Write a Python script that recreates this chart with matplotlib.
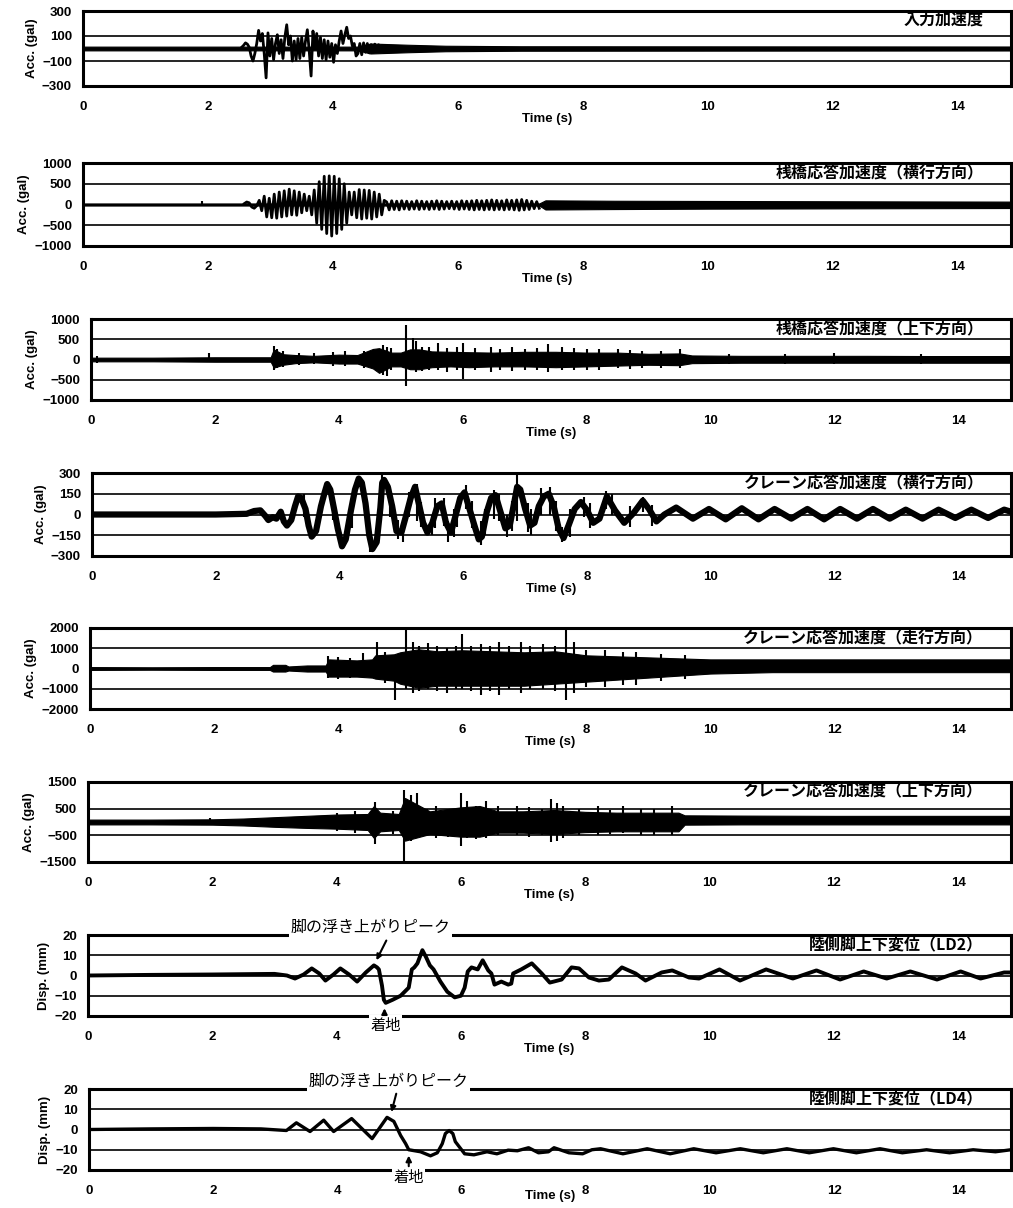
import numpy as np
import matplotlib.pyplot as plt

plt.rcParams['font.family'] = ['Liberation Sans', 'Noto Sans CJK JP']
JP = ['Noto Sans CJK JP', 'DejaVu Sans']

# ---------------- data ----------------
titles = ['入力加速度', '桟橋応答加速度（横行方向）', '桟橋応答加速度（上下方向）',
          'クレーン応答加速度（横行方向）', 'クレーン応答加速度（走行方向）',
          'クレーン応答加速度（上下方向）', '陸側脚上下変位（LD2）', '陸側脚上下変位（LD4）']
ylabels = ['Acc. (gal)'] * 6 + ['Disp. (mm)'] * 2
yticks = [[-300, -100, 100, 300], [-1000, -500, 0, 500, 1000], [-1000, -500, 0, 500, 1000],
          [-300, -150, 0, 150, 300], [-2000, -1000, 0, 1000, 2000], [-1500, -500, 500, 1500],
          [-20, -10, 0, 10, 20], [-20, -10, 0, 10, 20]]
xticks = [0, 2, 4, 6, 8, 10, 12, 14]

# panel 1 : input acceleration (peaks every 0.03 s from 2.54 s)
a1_start, a1_step = 2.54, 0.03
a1 = [10, 25, 45, 35, 10, -60, -100, -40, 40, 145, 60, 120, -40, -235, 125, -60,
      80, -90, 40, 110, -40, 70, -80, 90, 190, 30, 100, -100, 60, -90, 80, -80,
      90, -60, 60, 150, -20, -220, 140, 0, 120, -60, 90, -80, 70, -90, 60, -70,
      40, -110, 30, -40, 60, 140, 40, 110, 170, 80, 100, 20, 40, -60, -40, 40,
      -50, 45, -30, 40, -35, 30, -30, 35, -25, 30, -25, 25, -20, 20, -20, 15]
b1_t = [0, 2.5, 4.4, 4.6, 5.2, 5.8, 7.0, 14.85]
b1_lo = [-15, -15, -15, -40, -30, -22, -18, -16]
b1_hi = [15, 15, 15, 40, 30, 22, 18, 16]
sp1_t, sp1_lo, sp1_hi = [], [], []

# panel 2 : pier lateral (peaks every 0.04 s from 2.58 s)
a2_start, a2_step = 2.58, 0.04
a2 = [20, 60, 40, -60, -90, -30,
      100, -150, 200, -300, 150, -320, 250, -330, 300, -300, 330, -280, 370, -250,
      330, -260, 300, -200, 250, -150, 200, -250, 350, -450, 550, -600, 680, -700,
      690, -760, 680, -700, 620, -600, 500, -450, 300, -250, 300, -320, 360, -350,
      350, -330, 340, -350, 300, -300, 250, -250, 100,
      60, -130, 90, -120, 80, -130, 90, -110, 80, -120, 70, -110, 90, -120, 80, -110,
      70, -120, 80, -110, 90, -120, 80, -110, 70, -100, 80, -110, 70, -120, 90, -110,
      80, -120, 90, -130, 100, -120, 90, -130, 100, -120, 110, -130, 100, -120, 90, -130,
      110, -120, 100, -130, 110, -140, 120, -130, 100, -120, 80, -100, 70, -90]
b2_t = [0, 2.6, 4.8, 7.3, 7.4, 8.5, 10, 11.5, 13, 14.85]
b2_lo = [-25, -25, -25, -25, -120, -110, -100, -95, -90, -85]
b2_hi = [25, 25, 25, 25, 100, 90, 85, 80, 75, 70]
sp2_t, sp2_lo, sp2_hi = [1.9], [0], [80]

# panel 3 : pier vertical (envelope + spikes)
b3_t = [0, 1, 2, 2.9, 2.95, 3.1, 3.3, 3.6, 4.0, 4.3, 4.55, 4.65, 4.85, 5.0, 5.15, 5.3,
        5.5, 5.8, 6.1, 6.5, 7.0, 7.5, 8.0, 8.5, 9.0, 9.5, 9.7, 10.5, 11.5, 12.5, 13.5, 14.85]
b3_hi = [45, 45, 55, 55, 250, 130, 110, 90, 120, 110, 260, 280, 170, 170, 250, 250,
         200, 190, 180, 170, 190, 190, 170, 170, 140, 150, 100, 90, 90, 90, 85, 85]
b3_lo = [-45, -45, -55, -55, -200, -130, -90, -70, -100, -100, -220, -330, -170, -170, -240, -240,
         -190, -170, -190, -170, -170, -190, -170, -150, -130, -140, -90, -80, -80, -80, -80, -80]
sp3_t = [0.1, 1.9, 2.95, 3.0, 3.1, 3.35, 3.6, 3.9, 4.1, 4.4, 4.72, 4.78, 4.85, 5.09, 5.2, 5.25,
         5.35, 5.45, 5.6, 5.75, 5.9, 6.0, 6.2, 6.45, 6.6, 6.8, 7.0, 7.2, 7.38, 7.6, 7.8, 8.0,
         8.2, 8.5, 8.7, 8.9, 9.2, 9.5, 10.3, 11.2, 12.0, 13.4]
sp3_lo = [-80, -20, -260, -200, -180, -130, -120, -150, -160, -200, -380, -400, -250, -650, -200, -300,
          -280, -250, -250, -300, -250, -480, -260, -300, -250, -280, -250, -260, -300, -250, -260, -250,
          -250, -200, -230, -200, -200, -200, -120, -110, -120, -110]
sp3_hi = [80, 150, 330, 250, 200, 160, 150, 180, 200, 200, 350, 300, 280, 850, 530, 450,
          320, 300, 400, 280, 300, 400, 280, 300, 260, 300, 270, 280, 380, 300, 280, 260,
          250, 250, 230, 220, 200, 250, 140, 130, 150, 130]

# panel 4 : crane lateral
t4 = [0, 1, 2, 2.5, 2.62, 2.72, 2.80, 2.85, 2.92, 2.98, 3.05, 3.10, 3.15, 3.22, 3.28, 3.33,
      3.38, 3.45, 3.50, 3.55, 3.62, 3.70, 3.76, 3.80, 3.85, 3.92, 3.97, 4.04, 4.10, 4.18, 4.25, 4.31,
      4.36, 4.42, 4.48, 4.53, 4.60, 4.66, 4.69, 4.72, 4.78, 4.85, 4.92, 5.0, 5.08, 5.15, 5.22, 5.28,
      5.35, 5.42, 5.5, 5.58, 5.65, 5.72, 5.8, 5.88, 5.95, 6.02, 6.1, 6.18, 6.25, 6.3, 6.38, 6.45,
      6.52, 6.6, 6.68, 6.75, 6.82, 6.87, 6.92, 7.0, 7.08, 7.15, 7.22, 7.3, 7.38, 7.46, 7.54, 7.62,
      7.7, 7.8, 7.9, 8.0, 8.1, 8.2, 8.32, 8.45, 8.6, 8.75, 8.9, 9.0, 9.12, 9.25, 9.44, 9.71,
      9.97, 10.24, 10.5, 10.77, 11.03, 11.3, 11.56, 11.83, 12.09, 12.36, 12.62, 12.89, 13.15, 13.42, 13.68, 13.95,
      14.21, 14.48, 14.74, 14.85]
v4 = [0, 0, 0, 5, 25, 30, -10, -40, -20, -30, 20, -50, -80, -40, 60, 130,
      120, 40, -80, -160, -120, 60, 160, 220, 180, 20, -100, -230, -180, 20, 180, 260,
      230, 80, -150, -250, -200, 50, 230, 250, 200, 60, -120, -130, 0, 120, 200, 80,
      -60, -130, -60, 60, 80, -60, -130, 0, 120, 160, 40, -80, -180, -160, 20, 120,
      140, 20, -100, -80, 80, 200, 180, 40, -80, -60, 60, 130, 150, 60, -100, -170,
      -80, 40, 90, 30, -60, -30, 130, 30, -60, 10, 100, 40, -50, 0, 50, -30,
      40, -35, 45, -35, 40, -30, 40, -35, 40, -30, 40, -30, 35, -30, 35, -25,
      35, -25, 35, 20]
sp4_t = [3.42, 3.9, 4.2, 4.5, 4.69, 4.82, 4.95, 5.02, 5.12, 5.25, 5.32, 5.5, 5.55, 5.68, 5.75, 5.85,
         5.9, 6.05, 6.14, 6.28, 6.35, 6.5, 6.58, 6.7, 6.78, 6.87, 7.04, 7.1, 7.26, 7.4, 7.5, 7.6,
         7.72, 7.95, 8.05, 8.3, 8.4, 8.7, 8.9, 9.05]
sp4_lo = [-20, -40, -100, -270, 0, -20, -180, -200, -20, -50, -90, -150, -100, -80, -200, -160,
          -90, 40, -100, -220, -150, -30, -50, -160, -120, -50, -130, -150, 0, 0, -120, -200,
          -160, -20, -100, 40, 0, -90, 20, -80]
sp4_hi = [150, 100, 120, -100, 295, 200, -40, -40, 160, 220, 90, 0, 120, 120, -50, 40,
          60, 210, 100, -50, 40, 180, 150, 0, 100, 300, 80, 40, 190, 200, 100, -90,
          40, 130, 80, 170, 150, 60, 130, 70]

# panel 5 : crane travelling direction (envelope + spikes)
b5_t = [0, 1, 2, 2.9, 2.95, 3.15, 3.2, 3.5, 3.8, 3.85, 4.3, 4.55, 4.6, 4.9, 5.0, 5.3,
        5.6, 6.0, 6.5, 7.0, 7.5, 8.0, 8.5, 9.0, 9.5, 10, 11, 12, 13, 14, 14.85]
b5_hi = [70, 60, 70, 70, 180, 180, 100, 150, 150, 450, 400, 450, 650, 700, 800, 950,
         850, 900, 850, 800, 850, 650, 600, 550, 500, 450, 450, 450, 450, 450, 450]
b5_lo = [-70, -60, -70, -70, -150, -150, -100, -150, -150, -400, -400, -450, -500, -600, -750, -950,
         -850, -850, -850, -850, -750, -650, -550, -450, -350, -250, -180, -180, -180, -180, -180]
sp5_t = [3.84, 4.0, 4.2, 4.4, 4.62, 4.75, 4.91, 5.1, 5.2, 5.3, 5.45, 5.6, 5.75, 5.9, 6.0, 6.15,
         6.3, 6.45, 6.6, 6.75, 6.95, 7.1, 7.3, 7.5, 7.68, 7.8, 8.0, 8.3, 8.6, 8.8, 9.2, 9.6]
sp5_lo = [-450, -500, -450, -400, -300, -700, -1550, -1000, -1200, -1100, -1000, -1100, -1200, -1000, -1000, -1100,
          -1300, -1100, -1300, -1000, -1200, -1000, -1000, -1100, -1550, -1200, -900, -900, -800, -800, -600, -500]
sp5_hi = [600, 550, 500, 750, 1320, 800, 500, 1900, 1300, 1100, 1250, 1100, 1000, 1100, 1700, 1100,
          1200, 1100, 1300, 1100, 1300, 1100, 1200, 1100, 2000, 1300, 900, 900, 800, 800, 700, 650]

# panel 6 : crane vertical (envelope + spikes)
b6_t = [0, 1, 2, 2.5, 3.0, 3.5, 4.0, 4.5, 4.6, 4.7, 5.0, 5.1, 5.5, 6.0, 6.3, 6.6,
        7.0, 7.5, 8.0, 8.5, 9.0, 9.5, 9.6, 10.5, 12, 13.5, 14.85]
b6_hi = [90, 90, 100, 130, 180, 230, 280, 300, 600, 350, 300, 900, 400, 550, 600, 400,
         400, 450, 380, 350, 350, 350, 250, 240, 230, 230, 230]
b6_lo = [-90, -90, -100, -130, -180, -220, -250, -300, -600, -350, -300, -700, -450, -550, -550, -400,
         -400, -450, -380, -350, -350, -350, -100, -90, -90, -90, -90]
sp6_t = [1.97, 4.0, 4.3, 4.62, 4.9, 5.08, 5.2, 5.3, 5.45, 5.6, 5.8, 6.0, 6.1, 6.25, 6.4, 6.6,
         6.9, 7.1, 7.3, 7.45, 7.55, 7.65, 7.9, 8.2, 8.4, 8.6, 8.9, 9.1, 9.4]
sp6_lo = [0, -350, -400, -820, -450, -1500, -700, -600, -400, -600, -550, -900, -600, -650, -600, -500,
          -500, -550, -500, -760, -700, -600, -500, -500, -450, -400, -500, -500, -500]
sp6_hi = [150, 350, 400, 740, 400, 1190, 1000, 1100, 500, 600, 500, 1100, 800, 600, 800, 600,
          600, 550, 500, 860, 700, 600, 500, 600, 450, 600, 500, 500, 600]

# panel 7 : LD2 displacement
t7 = [0, 1, 2, 3, 3.2, 3.33, 3.47, 3.6, 3.72, 3.82, 3.95, 4.06, 4.2, 4.33, 4.47, 4.6,
      4.65, 4.68, 4.73, 4.76, 4.79, 4.9, 5.03, 5.16, 5.21, 5.25, 5.3, 5.38, 5.44, 5.5, 5.56, 5.67,
      5.78, 5.9, 6.0, 6.06, 6.11, 6.17, 6.27, 6.35, 6.44, 6.49, 6.54, 6.65, 6.76, 6.81, 6.84, 6.97,
      7.14, 7.3, 7.43, 7.62, 7.78, 7.9, 8.06, 8.22, 8.38, 8.59, 8.81, 8.97, 9.23, 9.4, 9.67, 9.83,
      10.16, 10.49, 10.91, 11.34, 11.72, 12.1, 12.48, 12.85, 13.23, 13.66, 14.04, 14.36, 14.74, 14.85]
v7 = [0, 0.3, 0.5, 0.8, 0, -1.5, 0.5, 3.5, 1, -2.5, 0.5, 3.5, 0.5, -3, 1.5, 5,
      4, 3, -5, -12, -13.5, -12, -10, -6, 3, 4, 6, 12.5, 9, 5, 3, -3,
      -8, -10.8, -10, -6, 2, 4, 3, 7.5, 2.5, 1, -4.5, -3, -4.5, -4, 1, 3,
      6, 1, -3.5, -2, 4, 3.5, -1, -2.5, -2, 4, 1, -2.5, 1.5, 2.5, -1, -1.5,
      3, -2.5, 3, -1.5, 2.5, -2, 2, -1.5, 2, -2, 2, -1.5, 1.5, 1.5]

# panel 8 : LD4 displacement
t8 = [0, 1, 2, 2.77, 3.18, 3.34, 3.56, 3.78, 3.94, 4.23, 4.56, 4.8, 4.91, 5.02, 5.1, 5.15,
      5.34, 5.5, 5.61, 5.69, 5.74, 5.8, 5.86, 5.9, 6.05, 6.2, 6.41, 6.57, 6.75, 6.9, 7.08, 7.24,
      7.4, 7.49, 7.73, 7.95, 8.1, 8.24, 8.6, 8.99, 9.36, 9.74, 10.1, 10.49, 10.86, 11.24, 11.6, 11.99,
      12.36, 12.74, 13.1, 13.49, 13.86, 14.24, 14.6, 14.85]
v8 = [0, 0.3, 0.5, 0.3, -0.5, 3.3, -1, 4.6, -1, 5.4, -4.5, 6, 4, -3, -7, -10,
      -11, -13, -11.5, -7, -2, -0.5, -2, -6, -12, -12.5, -11, -12, -10.2, -10.5, -9, -11.5,
      -11, -9, -11.5, -12, -10, -9.5, -12, -9.5, -12, -9.5, -11.5, -9.5, -11.5, -9.5, -11.5, -9.5,
      -11.5, -9.5, -11.5, -10, -11.5, -10, -11, -10]

# ---------------- layout (pixels of the 1013 x 1208 canvas) ----------------
W, H = 1013, 1208
boxes = [(83, 11, 1011, 86), (83, 163, 1011, 246), (91, 319, 1011, 400), (92, 473, 1011, 556),
         (90, 628, 1011, 709), (88, 782, 1011, 862), (88, 935, 1011, 1016), (89, 1089, 1011, 1170)]

fig = plt.figure(figsize=(W / 100, H / 100), dpi=100)
axes = []
for (l, t, r, b) in boxes:
    axes.append(fig.add_axes([l / W, 1 - b / H, (r - l) / W, (b - t) / H]))


def setup(ax, i):
    ax.set_xlim(0, 14.85)
    ax.set_ylim(yticks[i][0], yticks[i][-1])
    ax.set_yticks(yticks[i])
    ax.set_xticks(xticks)
    ax.grid(axis='y', color='black', lw=1.2)
    ax.set_axisbelow(True)
    ax.tick_params(length=0, labelsize=9.5)
    ax.tick_params(axis='x', pad=11)
    ax.tick_params(axis='y', pad=8)
    for lab in ax.get_xticklabels() + ax.get_yticklabels():
        lab.set_fontweight('bold')
    for s in ax.spines.values():
        s.set_linewidth(2.2)
    ax.set_xlabel('Time (s)', fontsize=9.5, fontweight='bold',
                  labelpad=(-5 if i == 7 else 0))
    ax.set_ylabel(ylabels[i], fontsize=9.5, fontweight='bold', labelpad=3)
    ax.text(0.97, 0.89, titles[i], transform=ax.transAxes, ha='right', va='center',
            fontsize=11.5, family=JP, fontweight='bold')


def band(ax, t, lo, hi):
    ax.fill_between(t, lo, hi, color='black', lw=0.8)


def spikes(ax, t, lo, hi):
    if t:
        ax.vlines(t, lo, hi, color='black', lw=1.5)


def osc(ax, start, step, vals, lw=1.3):
    tt = start + step * np.arange(len(vals))
    ax.plot(tt, vals, color='black', lw=lw)


for i, ax in enumerate(axes):
    setup(ax, i)

band(axes[0], b1_t, b1_lo, b1_hi)
osc(axes[0], a1_start, a1_step, a1, lw=2.0)
spikes(axes[0], sp1_t, sp1_lo, sp1_hi)

band(axes[1], b2_t, b2_lo, b2_hi)
osc(axes[1], a2_start, a2_step, a2, lw=2.0)
spikes(axes[1], sp2_t, sp2_lo, sp2_hi)

band(axes[2], b3_t, b3_lo, b3_hi)
spikes(axes[2], sp3_t, sp3_lo, sp3_hi)

axes[3].plot(t4, v4, color='black', lw=4.5)
spikes(axes[3], sp4_t, sp4_lo, sp4_hi)

band(axes[4], b5_t, b5_lo, b5_hi)
spikes(axes[4], sp5_t, sp5_lo, sp5_hi)

band(axes[5], b6_t, b6_lo, b6_hi)
spikes(axes[5], sp6_t, sp6_lo, sp6_hi)

axes[6].plot(t7, v7, color='black', lw=2.8)
axes[7].plot(t8, v8, color='black', lw=2.4)

# annotations on the displacement panels
wb = dict(facecolor='white', edgecolor='none', pad=1)
arw = dict(arrowstyle='-|>', color='black', lw=1.5, mutation_scale=8)
axes[6].text(4.55, 23.5, '脚の浮き上がりピーク', family=JP, fontsize=11.5, ha='center', va='center', bbox=wb)
axes[6].annotate('', xy=(4.62, 6.3), xytext=(4.82, 18.5), arrowprops=arw)
axes[6].text(4.79, -24.5, '着地', family=JP, fontsize=11, ha='center', va='center', bbox=wb)
axes[6].annotate('', xy=(4.77, -14.8), xytext=(4.77, -20.5), arrowprops=arw)

axes[7].text(4.82, 23.5, '脚の浮き上がりピーク', family=JP, fontsize=11.5, ha='center', va='center', bbox=wb)
axes[7].annotate('', xy=(4.86, 7.3), xytext=(4.96, 19.0), arrowprops=arw)
axes[7].text(5.15, -23.5, '着地', family=JP, fontsize=11, ha='center', va='center', bbox=wb)
axes[7].annotate('', xy=(5.15, -11.5), xytext=(5.15, -19.5), arrowprops=arw)

fig.savefig('out.png', dpi=100)
